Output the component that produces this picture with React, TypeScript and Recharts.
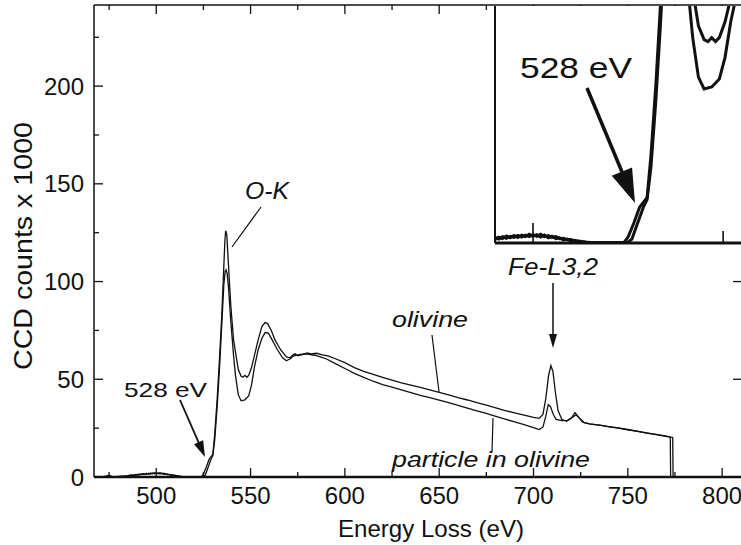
import { Line, LineChart, XAxis, YAxis } from "recharts";

// EELS spectra: energy loss (eV) vs CCD counts (x1000)
const olivine: [number, number][] = [
  [467, 0], [472, 0.2], [475, 0.8], [476, 0.1], [480, 0.2], [484, 0.4], [486, 0.9], [487, 0.5],
  [488, 1.1], [489, 0.8], [490, 1.4], [491, 1.0], [492, 1.6], [493, 1.2], [494, 1.7], [495, 1.4],
  [496, 1.9], [497, 1.5], [498, 2.0], [499, 1.6], [500, 2.1], [501, 1.7], [502, 2.2], [503, 1.6],
  [504, 1.9], [505, 1.4], [506, 1.6], [507, 1.1], [508, 1.2], [509, 0.8], [510, 0.9], [511, 0.5],
  [512, 0.5], [514, 0.2], [518, 0.1], [522, 0.1], [524, 0.2], [525, 1.5], [526.5, 5], [528, 9],
  [529, 10.3], [530, 11.5], [531, 22], [532.3, 40], [533.5, 60], [534.7, 82], [535.7, 105],
  [536.4, 121], [536.8, 126], [537.4, 124], [538.2, 110], [539.5, 88], [541, 70], [542.5, 61],
  [543.5, 55], [545, 51.5], [546, 51], [547, 52], [548, 51], [549, 52], [550.5, 56], [552, 62],
  [554, 70], [556, 77], [557.7, 79], [559, 78.5], [561, 75], [563, 70], [566, 65], [569, 61.5],
  [571, 61], [572.5, 62.5], [573.6, 63], [575, 62], [578, 62.8], [580, 63.5], [582, 63],
  [585, 63.3], [588, 62.5], [591, 62], [595, 60.5], [600, 58.5], [605, 56], [610, 54],
  [615, 52.5], [620, 51], [625, 49.6], [630, 48.2], [635, 47], [640, 45.8], [645, 44.6],
  [650, 43.3], [655, 42], [660, 40.6], [665, 39.4], [670, 38], [675, 36.8], [680, 35.4],
  [685, 34], [690, 32.8], [695, 31.6], [700, 30.5], [703, 30], [705, 32], [706.5, 40],
  [708, 52], [709.2, 57], [710.3, 54], [711.5, 44], [713, 34], [715, 29.5], [717.5, 28.5],
  [720, 30], [722, 33], [724, 30.5], [726, 28], [730, 27], [735, 26.5], [740, 25.8],
  [745, 25.1], [750, 24.3], [755, 23.5], [760, 22.6], [765, 21.8], [770, 21], [772.5, 20.5],
  [772.7, 0],
];

const particle: [number, number][] = [
  [467, 0], [472, 0.1], [476, 0.6], [477, 0], [480, 0.3], [484, 0.5], [486, 0.8], [487, 1.2],
  [488, 0.7], [489, 1.3], [490, 0.9], [491, 1.5], [492, 1.1], [493, 1.8], [494, 1.3], [495, 1.9],
  [496, 1.4], [497, 2.0], [498, 1.6], [499, 2.2], [500, 1.7], [501, 2.1], [502, 1.5], [503, 2.0],
  [504, 1.3], [505, 1.7], [506, 1.1], [507, 1.3], [508, 0.8], [509, 1.0], [510, 0.5], [511, 0.7],
  [512, 0.3], [514, 0.2], [518, 0], [522, 0.1], [525, 0.2], [526, 1], [527.5, 5], [529, 9],
  [530, 11], [531, 19], [532.3, 36], [533.5, 55], [534.7, 77], [535.8, 98], [536.5, 105],
  [537, 106], [537.6, 104], [538.3, 97], [539.5, 80], [541, 62], [542, 52], [543.5, 42],
  [545, 39], [547, 39.5], [549, 41.5], [550.5, 47], [552, 56], [554, 65], [556, 71],
  [557.8, 74], [559.5, 73.5], [561.5, 70], [564, 65.5], [567, 61], [569, 59.5], [571, 60.5],
  [573, 62], [575, 62.5], [578, 63], [581, 62.8], [584, 62.3], [587, 61.5], [590, 60.5],
  [595, 58], [600, 55.5], [605, 53], [610, 51], [615, 49], [620, 47.3], [625, 46],
  [630, 44.6], [635, 43.2], [640, 41.8], [645, 40.6], [650, 39.3], [655, 38], [660, 36.6],
  [665, 35.2], [670, 33.8], [675, 32.5], [680, 31], [685, 29.6], [690, 28.2], [695, 26.8],
  [700, 25.3], [703, 24.3], [705, 25.5], [706.5, 31], [707.8, 37], [709, 36], [710.5, 32],
  [712, 29.5], [715, 28.8], [718, 29], [720.5, 30.5], [722.5, 31.8], [724.5, 30], [727, 27.8],
  [730, 27.2], [735, 26.5], [740, 25.7], [745, 25], [750, 24.1], [755, 23.3], [760, 22.5],
  [765, 21.7], [770, 20.8], [773.8, 20.2], [774, 0],
];

const xTicks = [475, 500, 525, 550, 575, 600, 625, 650, 675, 700, 725, 750, 775, 800];
const yTicks = [0, 25, 50, 75, 100, 125, 150, 175, 200, 225];
const rightTicks = [50, 100];
const insetTicks = [500, 550];

const INK = "#111";
const FONT = "'Liberation Sans', Arial, Helvetica, sans-serif";

const toRows = (pts: [number, number][]) => pts.map(([e, v]) => ({ e, v }));
const olivineData = toRows(olivine);
const particleData = toRows(particle);

const isMajor = (v: number) => v % 50 === 0;

function BottomTick(props: any) {
  const { x, y, payload } = props;
  const major = isMajor(payload.value);
  return (
    <g>
      <line x1={x} x2={x} y1={y} y2={y - (major ? 9 : 5)} stroke={INK} strokeWidth={1.3} />
      {major && (
        <text x={x} y={y + 27} textAnchor="middle" fontSize={24} fontFamily={FONT} fill={INK} stroke="none">
          {payload.value}
        </text>
      )}
    </g>
  );
}

function TopTick(props: any) {
  const { x, y, payload } = props;
  const major = isMajor(payload.value);
  return <line x1={x} x2={x} y1={y} y2={y + (major ? 9 : 5)} stroke={INK} strokeWidth={1.3} />;
}

function LeftTick(props: any) {
  const { x, y, payload } = props;
  const major = isMajor(payload.value);
  return (
    <g>
      <line x1={x} x2={x + (major ? 9 : 5)} y1={y} y2={y} stroke={INK} strokeWidth={1.3} />
      {major && (
        <text x={x - 10} y={y + 8.6} textAnchor="end" fontSize={24} fontFamily={FONT} fill={INK} stroke="none">
          {payload.value}
        </text>
      )}
    </g>
  );
}

function RightTick(props: any) {
  const { x, y } = props;
  return <line x1={x} x2={x - 8} y1={y} y2={y} stroke={INK} strokeWidth={1.3} />;
}

function InsetTick(props: any) {
  const { x, y, payload } = props;
  return (
    <line x1={x} x2={x} y1={y} y2={y - (payload.value === 500 ? 20 : 12)} stroke={INK} strokeWidth={1.6} />
  );
}

function Arrow({ x1, y1, x2, y2, w, head, half }: { x1: number; y1: number; x2: number; y2: number; w: number; head: number; half: number }) {
  const dx = x2 - x1;
  const dy = y2 - y1;
  const len = Math.hypot(dx, dy);
  const ux = dx / len;
  const uy = dy / len;
  const bx = x2 - ux * head;
  const by = y2 - uy * head;
  const pts = `${x2},${y2} ${bx - uy * half},${by + ux * half} ${bx + uy * half},${by - ux * half}`;
  return (
    <g>
      <line x1={x1} y1={y1} x2={bx + ux * 2} y2={by + uy * 2} stroke={INK} strokeWidth={w} />
      <polygon points={pts} fill={INK} />
    </g>
  );
}

function Label({ x, y, len, size, italic, children }: { x: number; y: number; len: number; size: number; italic?: boolean; children: string }) {
  return (
    <text
      x={x}
      y={y}
      fontSize={size}
      fontFamily={FONT}
      fontStyle={italic ? "italic" : "normal"}
      fill={INK}
      textLength={len}
      lengthAdjust="spacingAndGlyphs"
    >
      {children}
    </text>
  );
}

export default function App() {
  return (
    <div style={{ position: "fixed", left: 0, top: 0, width: 741, height: 545, background: "#fff", overflow: "hidden" }}>
      <LineChart width={742} height={545} margin={{ top: 4, right: 0, bottom: 0, left: 0 }}>
        <XAxis
          xAxisId="b"
          dataKey="e"
          type="number"
          domain={[467, 810]}
          allowDataOverflow
          ticks={xTicks}
          interval={0}
          height={68}
          tickSize={0}
          tickMargin={0}
          tickLine={false}
          tick={BottomTick}
          stroke={INK}
          axisLine={{ stroke: INK, strokeWidth: 2.5 }}
        />
        <XAxis
          xAxisId="t"
          orientation="top"
          dataKey="e"
          type="number"
          domain={[467, 810]}
          allowDataOverflow
          ticks={xTicks}
          interval={0}
          height={1}
          tickSize={0}
          tickMargin={0}
          tickLine={false}
          tick={TopTick}
          stroke={INK}
          axisLine={{ stroke: INK, strokeWidth: 1.5 }}
        />
        <YAxis
          yAxisId="l"
          type="number"
          domain={[0, 241.5]}
          allowDataOverflow
          ticks={yTicks}
          interval={0}
          width={94}
          tickSize={0}
          tickMargin={0}
          tickLine={false}
          tick={LeftTick}
          stroke={INK}
          axisLine={{ stroke: INK, strokeWidth: 1.5 }}
        />
        <YAxis
          yAxisId="r"
          orientation="right"
          type="number"
          domain={[0, 241.5]}
          allowDataOverflow
          ticks={rightTicks}
          interval={0}
          width={1}
          tickSize={0}
          tickMargin={0}
          tickLine={false}
          tick={RightTick}
          axisLine={false}
        />
        <Line xAxisId="b" yAxisId="l" data={olivineData} dataKey="v" type="linear" stroke={INK} strokeWidth={1.3} dot={false} isAnimationActive={false} />
        <Line xAxisId="b" yAxisId="l" data={particleData} dataKey="v" type="linear" stroke={INK} strokeWidth={1.3} dot={false} isAnimationActive={false} />
      </LineChart>

      {/* inset: onset of the O-K edge */}
      <div style={{ position: "absolute", left: 492, top: 6, width: 249, height: 240, background: "#fff" }}>
        <LineChart width={249} height={240} margin={{ top: 0, right: 0, bottom: 2, left: 2 }}>
          <XAxis
            dataKey="e"
            type="number"
            domain={[490, 554.7]}
            allowDataOverflow
            ticks={insetTicks}
            interval={0}
            height={1}
            tickSize={0}
            tickMargin={0}
            tickLine={false}
            tick={InsetTick}
            stroke={INK}
            axisLine={{ stroke: INK, strokeWidth: 3 }}
          />
          <YAxis
            type="number"
            domain={[0, 60]}
            allowDataOverflow
            width={1}
            tick={false}
            tickLine={false}
            stroke={INK}
            axisLine={{ stroke: INK, strokeWidth: 2 }}
          />
          <Line data={olivineData} dataKey="v" type="linear" stroke={INK} strokeWidth={3} dot={false} isAnimationActive={false} />
          <Line data={particleData} dataKey="v" type="linear" stroke={INK} strokeWidth={3} dot={false} isAnimationActive={false} />
        </LineChart>
      </div>

      <svg width={741} height={545} style={{ position: "absolute", left: 0, top: 0, pointerEvents: "none" }}>
        <Label x={338} y={537} len={186} size={24}>Energy Loss (eV)</Label>
        <g transform="translate(32,370) rotate(-90)">
          <Label x={0} y={0} len={248} size={26}>CCD counts x 1000</Label>
        </g>

        <Label x={245} y={199} len={44} size={24} italic>O-K</Label>
        <line x1={261} y1={207} x2={232} y2={247} stroke={INK} strokeWidth={1.2} />

        <Label x={392} y={327} len={76} size={22} italic>olivine</Label>
        <line x1={432} y1={335} x2={439} y2={392} stroke={INK} strokeWidth={1.2} />

        <Label x={392} y={467} len={198} size={22} italic>particle in olivine</Label>
        <line x1={492} y1={452} x2={493} y2={418} stroke={INK} strokeWidth={1.2} />

        <Label x={508} y={275} len={90} size={23} italic>Fe-L3,2</Label>
        <Arrow x1={553} y1={283} x2={553} y2={348} w={1.5} head={14} half={4} />

        <Label x={124} y={397} len={83} size={21}>528 eV</Label>
        <Arrow x1={180} y1={400} x2={205} y2={457} w={1.8} head={16} half={5} />

        <Label x={520} y={78} len={112} size={30}>528 eV</Label>
        <Arrow x1={587} y1={88} x2={635} y2={203} w={3.5} head={34} half={11} />
      </svg>
    </div>
  );
}
